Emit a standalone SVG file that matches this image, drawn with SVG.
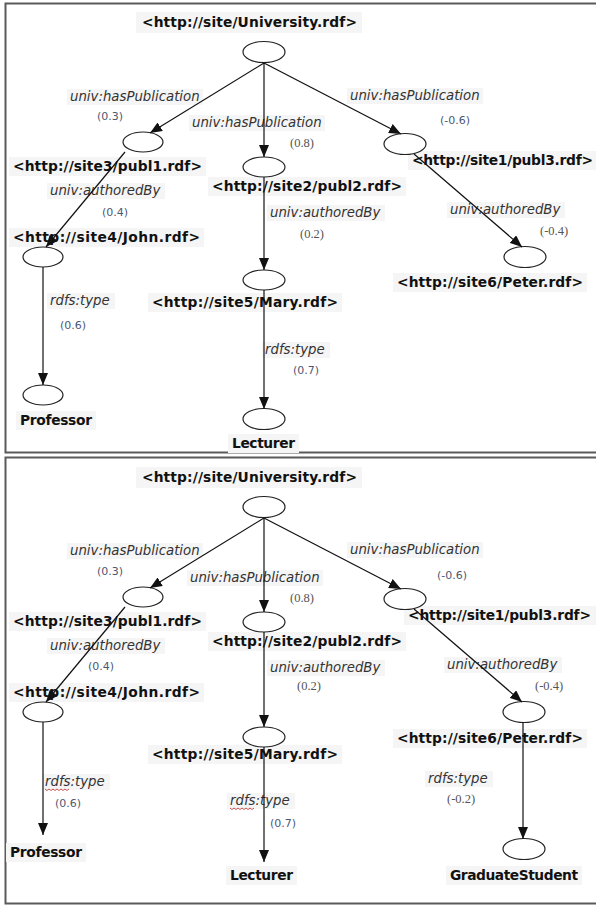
<svg xmlns="http://www.w3.org/2000/svg" width="596" height="906" viewBox="0 0 596 906">
  <defs>
    <marker id="arrow" markerUnits="userSpaceOnUse" markerWidth="12" markerHeight="10" refX="12" refY="5" orient="auto">
      <path d="M0,0 L12,5 L0,10 z" fill="#111"/>
    </marker>
    <style>
      .frame { fill: #fff; stroke: #5a5a5a; stroke-width: 2; }
      .node ellipse { fill: #fff; stroke: #222; stroke-width: 1.2; }
      .bg { fill: #f5f5f5; }
      .lbl { font-family: "DejaVu Sans", Verdana, sans-serif; font-weight: bold; font-size: 13.8px; fill: #111; }
      .rel { font-family: "DejaVu Sans", Verdana, sans-serif; font-style: italic; font-size: 13.3px; fill: #333; }
      .w { font-family: "DejaVu Sans", Verdana, sans-serif; font-size: 11px; fill: #4c5872; }
      .ws { font-family: "Liberation Serif", "Times New Roman", serif; font-size: 12.5px; fill: #555; }
      .edges line { stroke: #111; stroke-width: 1.2; marker-end: url(#arrow); }
      .squiggle { fill: none; stroke: #c84040; stroke-width: 0.9; }
    </style>
  </defs>

  <rect x="0" y="0" width="596" height="906" fill="#fff"/>

  <!-- upper panel -->
  <rect class="frame" x="5.5" y="3.5" width="600" height="449"/>

  <g id="a-univ" class="node">
    <rect class="bg" x="136" y="12" width="226" height="21"/>
    <text class="lbl" x="142" y="27" textLength="215">&lt;http://site/University.rdf&gt;</text>
    <ellipse cx="264" cy="52" rx="21" ry="10.5"/>
  </g>
  <g id="a-publ1" class="node">
    <rect class="bg" x="9" y="157" width="197" height="19"/>
    <text class="lbl" x="13" y="171" textLength="189">&lt;http://site3/publ1.rdf&gt;</text>
    <ellipse cx="143" cy="142" rx="20" ry="10"/>
  </g>
  <g id="a-publ2" class="node">
    <rect class="bg" x="208" y="177" width="198" height="19"/>
    <text class="lbl" x="212" y="191" textLength="190">&lt;http://site2/publ2.rdf&gt;</text>
    <ellipse cx="264" cy="167" rx="21" ry="10"/>
  </g>
  <g id="a-publ3" class="node">
    <rect class="bg" x="408" y="151" width="190" height="19"/>
    <text class="lbl" x="412" y="165" textLength="181">&lt;http://site1/publ3.rdf&gt;</text>
    <ellipse cx="405" cy="144" rx="21" ry="10.5"/>
  </g>
  <g id="a-john" class="node">
    <rect class="bg" x="9" y="228" width="195" height="19"/>
    <text class="lbl" x="13" y="242" textLength="187">&lt;http://site4/John.rdf&gt;</text>
    <ellipse cx="43" cy="257" rx="20" ry="10"/>
  </g>
  <g id="a-mary" class="node">
    <rect class="bg" x="148" y="293" width="194" height="19"/>
    <text class="lbl" x="152" y="307" textLength="186">&lt;http://site5/Mary.rdf&gt;</text>
    <ellipse cx="264" cy="280" rx="21" ry="10"/>
  </g>
  <g id="a-peter" class="node">
    <rect class="bg" x="393" y="273" width="194" height="19"/>
    <text class="lbl" x="397" y="287" textLength="186">&lt;http://site6/Peter.rdf&gt;</text>
    <ellipse cx="525" cy="257" rx="21" ry="10.5"/>
  </g>
  <g id="a-professor" class="node">
    <rect class="bg" x="16" y="411" width="80" height="19"/>
    <text class="lbl" x="20" y="425" textLength="72">Professor</text>
    <ellipse cx="43" cy="395" rx="20" ry="10"/>
  </g>
  <g id="a-lecturer" class="node">
    <rect class="bg" x="228" y="434" width="71" height="19"/>
    <text class="lbl" x="232" y="448" textLength="63">Lecturer</text>
    <ellipse cx="264" cy="419" rx="21" ry="10.5"/>
  </g>

  <g id="a-edge-labels">
    <rect class="bg" x="67" y="89" width="136" height="16"/>
    <text class="rel" x="70" y="101">univ:hasPublication</text>
    <text class="w" x="97" y="120">(0.3)</text>
    <rect class="bg" x="189" y="115" width="136" height="16"/>
    <text class="rel" x="192" y="127">univ:hasPublication</text>
    <text class="ws" x="290" y="147">(0.8)</text>
    <rect class="bg" x="347" y="88" width="136" height="16"/>
    <text class="rel" x="350" y="100">univ:hasPublication</text>
    <text class="w" x="440" y="124">(-0.6)</text>
    <rect class="bg" x="47" y="183" width="118" height="16"/>
    <text class="rel" x="50" y="195">univ:authoredBy</text>
    <text class="w" x="102" y="216">(0.4)</text>
    <rect class="bg" x="267" y="205" width="118" height="16"/>
    <text class="rel" x="270" y="217">univ:authoredBy</text>
    <text class="ws" x="300" y="238">(0.2)</text>
    <rect class="bg" x="447" y="202" width="118" height="16"/>
    <text class="rel" x="450" y="214">univ:authoredBy</text>
    <text class="ws" x="540" y="235">(-0.4)</text>
    <rect class="bg" x="47" y="293" width="68" height="16"/>
    <text class="rel" x="50" y="305">rdfs:type</text>
    <text class="w" x="60" y="329">(0.6)</text>
    <rect class="bg" x="262" y="342" width="68" height="16"/>
    <text class="rel" x="265" y="354">rdfs:type</text>
    <text class="w" x="293" y="374">(0.7)</text>
  </g>

  <g id="a-edges" class="edges">
    <line x1="264" y1="63" x2="150" y2="133"/>
    <line x1="264" y1="63" x2="264" y2="157"/>
    <line x1="264" y1="63" x2="401" y2="134"/>
    <line x1="125" y1="152" x2="46" y2="247"/>
    <line x1="264" y1="177" x2="264" y2="270"/>
    <line x1="414" y1="154" x2="522" y2="247"/>
    <line x1="43" y1="267" x2="43" y2="385"/>
    <line x1="264" y1="290" x2="264" y2="409"/>
  </g>

  <!-- lower panel -->
  <rect class="frame" x="5.5" y="457.5" width="600" height="446"/>

  <g id="b-univ" class="node">
    <rect class="bg" x="136" y="467" width="226" height="21"/>
    <text class="lbl" x="142" y="482" textLength="215">&lt;http://site/University.rdf&gt;</text>
    <ellipse cx="264" cy="507" rx="21" ry="10.5"/>
  </g>
  <g id="b-publ1" class="node">
    <rect class="bg" x="9" y="612" width="197" height="19"/>
    <text class="lbl" x="13" y="626" textLength="189">&lt;http://site3/publ1.rdf&gt;</text>
    <ellipse cx="143" cy="597" rx="20" ry="10"/>
  </g>
  <g id="b-publ2" class="node">
    <rect class="bg" x="208" y="632" width="198" height="19"/>
    <text class="lbl" x="212" y="646" textLength="190">&lt;http://site2/publ2.rdf&gt;</text>
    <ellipse cx="264" cy="622" rx="21" ry="10"/>
  </g>
  <g id="b-publ3" class="node">
    <rect class="bg" x="404" y="606" width="192" height="19"/>
    <text class="lbl" x="408" y="620" textLength="183">&lt;http://site1/publ3.rdf&gt;</text>
    <ellipse cx="405" cy="599" rx="21" ry="10.5"/>
  </g>
  <g id="b-john" class="node">
    <rect class="bg" x="9" y="683" width="195" height="19"/>
    <text class="lbl" x="13" y="697" textLength="187">&lt;http://site4/John.rdf&gt;</text>
    <ellipse cx="43" cy="712" rx="20" ry="10"/>
  </g>
  <g id="b-mary" class="node">
    <rect class="bg" x="148" y="745" width="194" height="19"/>
    <text class="lbl" x="152" y="759" textLength="186">&lt;http://site5/Mary.rdf&gt;</text>
    <ellipse cx="264" cy="737" rx="21" ry="10"/>
  </g>
  <g id="b-peter" class="node">
    <rect class="bg" x="393" y="729" width="194" height="19"/>
    <text class="lbl" x="397" y="743" textLength="186">&lt;http://site6/Peter.rdf&gt;</text>
    <ellipse cx="524" cy="712" rx="21" ry="10.5"/>
  </g>
  <g id="b-professor" class="node">
    <rect class="bg" x="6" y="843" width="80" height="19"/>
    <text class="lbl" x="10" y="857" textLength="72">Professor</text>
  </g>
  <g id="b-lecturer" class="node">
    <rect class="bg" x="226" y="866" width="71" height="19"/>
    <text class="lbl" x="230" y="880" textLength="63">Lecturer</text>
  </g>
  <g id="b-graduate" class="node">
    <rect class="bg" x="446" y="866" width="136" height="19"/>
    <text class="lbl" x="450" y="880" textLength="128">GraduateStudent</text>
    <ellipse cx="524" cy="849" rx="21" ry="10.5"/>
  </g>

  <g id="b-edge-labels">
    <rect class="bg" x="67" y="543" width="136" height="16"/>
    <text class="rel" x="70" y="555">univ:hasPublication</text>
    <text class="w" x="97" y="575">(0.3)</text>
    <rect class="bg" x="187" y="570" width="136" height="16"/>
    <text class="rel" x="190" y="582">univ:hasPublication</text>
    <text class="ws" x="290" y="602">(0.8)</text>
    <rect class="bg" x="347" y="542" width="136" height="16"/>
    <text class="rel" x="350" y="554">univ:hasPublication</text>
    <text class="w" x="437" y="579">(-0.6)</text>
    <rect class="bg" x="47" y="638" width="118" height="16"/>
    <text class="rel" x="50" y="650">univ:authoredBy</text>
    <text class="w" x="88" y="670">(0.4)</text>
    <rect class="bg" x="267" y="660" width="118" height="16"/>
    <text class="rel" x="270" y="672">univ:authoredBy</text>
    <text class="ws" x="297" y="690">(0.2)</text>
    <rect class="bg" x="444" y="657" width="118" height="16"/>
    <text class="rel" x="447" y="669">univ:authoredBy</text>
    <text class="ws" x="535" y="690">(-0.4)</text>
    <rect class="bg" x="42" y="774" width="68" height="16"/>
    <text class="rel" x="45" y="786">rdfs:type</text>
    <path class="squiggle" d="M45,789 l2,1.5 l2,-1.5 l2,1.5 l2,-1.5 l2,1.5 l2,-1.5 l2,1.5 l2,-1.5 l2,1.5 l2,-1.5 l2,1.5 l2,-1.5"/>
    <text class="w" x="55" y="807">(0.6)</text>
    <rect class="bg" x="227" y="793" width="68" height="16"/>
    <text class="rel" x="230" y="805">rdfs:type</text>
    <path class="squiggle" d="M230,808 l2,1.5 l2,-1.5 l2,1.5 l2,-1.5 l2,1.5 l2,-1.5 l2,1.5 l2,-1.5 l2,1.5 l2,-1.5 l2,1.5 l2,-1.5"/>
    <text class="w" x="270" y="827">(0.7)</text>
    <rect class="bg" x="425" y="771" width="68" height="16"/>
    <text class="rel" x="428" y="783">rdfs:type</text>
    <text class="ws" x="447" y="803">(-0.2)</text>
  </g>

  <g id="b-edges" class="edges">
    <line x1="264" y1="518" x2="150" y2="588"/>
    <line x1="264" y1="518" x2="264" y2="612"/>
    <line x1="264" y1="518" x2="401" y2="589"/>
    <line x1="125" y1="607" x2="46" y2="702"/>
    <line x1="264" y1="632" x2="264" y2="727"/>
    <line x1="414" y1="609" x2="522" y2="702"/>
    <line x1="43" y1="722" x2="43" y2="835"/>
    <line x1="264" y1="747" x2="264" y2="862"/>
    <line x1="523" y1="722" x2="523" y2="839"/>
  </g>
</svg>
